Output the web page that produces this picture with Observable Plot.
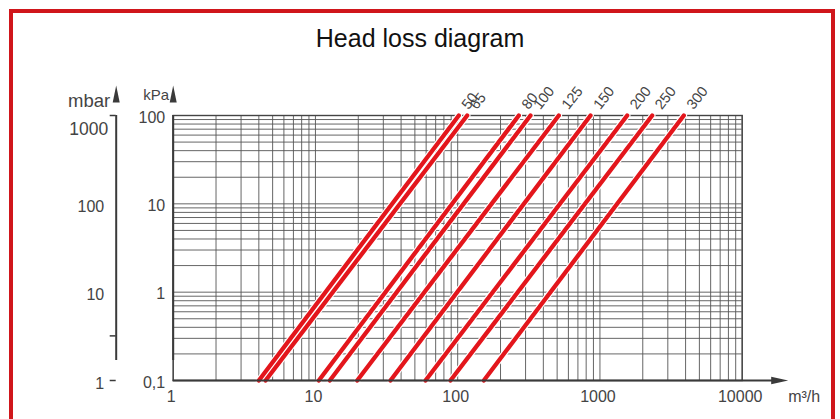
<!DOCTYPE html>
<html><head><meta charset="utf-8">
<script src="https://cdn.jsdelivr.net/npm/d3@7"></script>
<script src="https://cdn.jsdelivr.net/npm/@observablehq/plot@0.6"></script>
<style>
html,body{margin:0;padding:0;background:#fff;width:840px;height:419px;overflow:hidden;font-family:"Liberation Sans",Arial,sans-serif;}
#frame{position:absolute;left:9px;top:9px;width:818px;height:480px;border:4px solid #d0161b;}
#title{position:absolute;left:0;top:23px;width:840px;text-align:center;font-size:25px;line-height:30px;color:#111;}
#chart{position:absolute;left:0;top:0;}
</style></head><body>
<div id="frame"></div>
<div id="title">Head loss diagram</div>
<div id="chart"></div>
<script>
// Nominal sizes (DN) of each curve
const sizes = ["50","65","80","100","125","150","200","250","300"];
// Flow (m³/h) where each curve crosses 0,1 kPa and 100 kPa
const flowAtLow  = [4.00, 4.46, 10.56, 12.62, 19.66, 33.7, 59.4, 89.0, 152.6];
const flowAtHigh = [101.8, 116.6, 268.9, 324.9, 513.7, 858.5, 1554, 2330, 3886];
const pressureLow = 0.1, pressureHigh = 100;   // kPa
// Axes
const xDomain = [1, 10000];
const yDomain = [0.1, 100];
const xTickValues = [1, 10, 100, 1000, 10000];
const xTickLabels = ["1", "10", "100", "1000", "10000"];
const kPaTicks = [0.1, 1, 10, 100];
const kPaLabels = ["0,1", "1", "10", "100"];
const mbarTicks = [1, 10, 100];
const mbarTop = 1000;
const mbarTickMarks = [1, 3.2, 1000];

const lineData = sizes.flatMap((s, i) => [
  {size: s, q: flowAtLow[i], p: pressureLow},
  {size: s, q: flowAtHigh[i], p: pressureHigh}
]);
const labelData = sizes.map((s, i) => ({size: s, q: flowAtHigh[i], p: pressureHigh}));

const gridX = d3.scaleLog().domain(xDomain).ticks();
const gridY = d3.scaleLog().domain(yDomain).ticks();

const arrowUp = {draw(ctx){ ctx.moveTo(0,0); ctx.lineTo(3.5,17); ctx.lineTo(-3.5,17); ctx.closePath(); }};
const arrowRight = {draw(ctx){ ctx.moveTo(0,0); ctx.lineTo(-17,3.8); ctx.lineTo(-17,-3.8); ctx.closePath(); }};

const axisColor = "#3a3a3a", textColor = "#444";
const mbarDx = -57;

const chart = Plot.plot({
  width: 840, height: 419,
  marginLeft: 172.7, marginRight: 98.3, marginTop: 115, marginBottom: 39,
  x: {type: "log", domain: xDomain, axis: null},
  y: {type: "log", domain: yDomain, axis: null},
  style: {fontFamily: '"Liberation Sans", Arial, sans-serif', background: "transparent", overflow: "visible"},
  marks: [
    Plot.ruleX(gridX, {stroke: "#555", strokeWidth: 0.9}),
    Plot.ruleY(gridY, {stroke: "#555", strokeWidth: 0.9}),
    Plot.frame({stroke: "#444", strokeWidth: 1.4}),
    // curves
    Plot.line(lineData, {x: "q", y: "p", z: "size", stroke: "white", strokeWidth: 6.5}),
    Plot.line(lineData, {x: "q", y: "p", z: "size", stroke: "#e3161c", strokeWidth: 4.3}),
    Plot.text(labelData, {x: "q", y: "p", text: "size", rotate: -52, textAnchor: "start", dx: 6, dy: -8, fontSize: 14.5, fill: textColor}),
    // kPa axis (left) with arrow
    Plot.ruleX([xDomain[0]], {y1: yDomain[0], y2: yDomain[1], insetTop: -20, stroke: axisColor, strokeWidth: 2}),
    Plot.dot([yDomain[1]], {x: () => xDomain[0], y: d => d, dy: -30, symbol: arrowUp, fill: axisColor, stroke: "none"}),
    Plot.text(kPaTicks, {x: () => xDomain[0], y: d => d, text: (d, i) => kPaLabels[i], textAnchor: "end", dx: -8, dy: 2, fontSize: 16, fill: textColor}),
    Plot.text(["kPa"], {x: () => xDomain[0], y: () => yDomain[1], text: d => d, textAnchor: "end", dx: -4, dy: -20, fontSize: 15, fill: textColor}),
    // mbar axis
    Plot.ruleX([xDomain[0]], {y1: yDomain[0], y2: yDomain[1], insetTop: -20, dx: mbarDx, stroke: axisColor, strokeWidth: 2}),
    Plot.dot([yDomain[1]], {x: () => xDomain[0], y: d => d, dx: mbarDx, dy: -30, symbol: arrowUp, fill: axisColor, stroke: "none"}),
    Plot.ruleY(mbarTickMarks.map(m => m / 10), {x1: () => xDomain[0], x2: () => xDomain[0], insetLeft: -6, dx: mbarDx, stroke: axisColor, strokeWidth: 1.5}),
    Plot.text(mbarTicks, {x: () => xDomain[0], y: d => d / 10, text: d => String(d), textAnchor: "end", dx: mbarDx - 12, dy: 3, fontSize: 16, fill: textColor}),
    Plot.text([mbarTop], {x: () => xDomain[0], y: d => d / 10, text: d => String(d), textAnchor: "end", dx: mbarDx - 8, dy: 14, fontSize: 17.5, fill: textColor}),
    Plot.text(["mbar"], {x: () => xDomain[0], y: () => yDomain[1], text: d => d, textAnchor: "end", dx: mbarDx - 6, dy: -14, fontSize: 18.5, fill: textColor}),
    // x axis with arrow
    Plot.ruleY([yDomain[0]], {x1: xDomain[0], x2: xDomain[1], insetRight: -40, stroke: axisColor, strokeWidth: 2}),
    Plot.dot([xDomain[1]], {x: d => d, y: () => yDomain[0], dx: 46, symbol: arrowRight, fill: axisColor, stroke: "none"}),
    Plot.text(xTickValues, {x: d => d, y: () => yDomain[0], text: (d, i) => xTickLabels[i], dy: 16, dx: -2, fontSize: 16, fill: textColor}),
    Plot.text(["m³/h"], {x: () => xDomain[1], y: () => yDomain[0], text: d => d, textAnchor: "start", dx: 46, dy: 16, fontSize: 16, fill: textColor})
  ]
});
document.getElementById("chart").appendChild(chart);
</script>
</body></html>
